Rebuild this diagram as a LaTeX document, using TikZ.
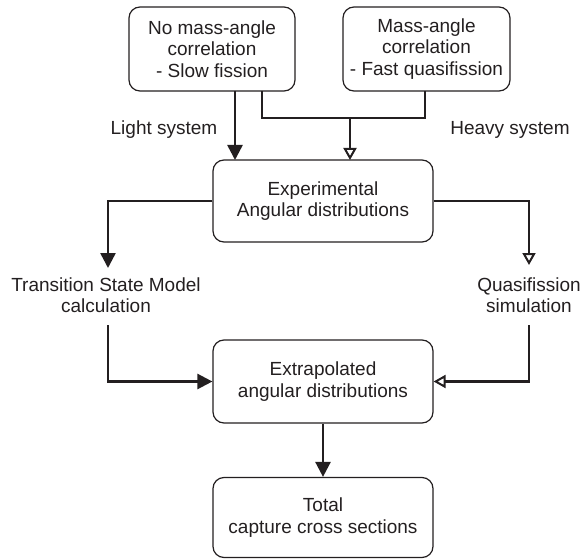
\documentclass[tikz,border=0pt]{standalone}
\usepackage{fontspec}
\setmainfont{Liberation Sans}
\usetikzlibrary{arrows.meta}
\definecolor{ink}{RGB}{35,31,32}
\begin{document}
\begin{tikzpicture}[x=1pt,y=-1pt,
  box/.style={draw=ink,line width=1.2pt,rounded corners=11pt,align=center,
    inner sep=0pt,text=ink,font=\fontsize{19}{21.5}\selectfont},
  lbl/.style={align=center,inner sep=0pt,text=ink,font=\fontsize{19}{21.5}\selectfont},
  conn/.style={draw=ink,line width=2.5pt},
  fillarr/.style={conn,-{Triangle[length=15pt,width=15pt]}},
  openarr/.style={conn,-{Triangle[open,length=12pt,width=13pt,line width=2pt]}}]
\useasboundingbox (0,0) rectangle (581,559);
% boxes
\node[box,minimum width=166pt,minimum height=84pt] (b1) at (212,49)
  {No mass-angle\\correlation\\- Slow fission};
\node[box,minimum width=167pt,minimum height=84pt] (b2) at (426.5,49)
  {Mass-angle\\correlation\\- Fast quasifission};
\node[box,minimum width=220pt,minimum height=82pt] (exp) at (323,201)
  {Experimental\\Angular distributions};
\node[box,minimum width=220pt,minimum height=83pt] (extr) at (323,381.5)
  {Extrapolated\\angular distributions};
\node[box,minimum width=220pt,minimum height=80pt] (tot) at (323,517.5)
  {Total\\capture cross sections};
% text labels
\node[lbl,minimum height=54pt] (tsm) at (106,295) {Transition State Model\\calculation};
\node[lbl,minimum height=54pt] (qs) at (529,295) {Quasifission\\simulation};
\node[lbl] (light) at (164,130) {Light system};
\node[lbl] (heavy) at (510,130) {Heavy system};
% junction coordinates
\coordinate (l1) at (235,91);
\coordinate (l2) at (235,160);
\coordinate (h1) at (262,91);
\coordinate (h2) at (425,91);
\coordinate (j) at (350,118);
\coordinate (j2) at (350,160);
\coordinate (tsmtop) at (108,268);
\coordinate (tsmbot) at (108,325);
\coordinate (qstop) at (529,265);
\coordinate (qsbot) at (529,325);
% connectors
\draw[fillarr] (l1) -- (l2);
\draw[conn] (h1) |- (j) -| (h2);
\draw[openarr] (j) -- (j2);
\draw[fillarr] (exp.west) -| (tsmtop);
\draw[openarr] (exp.east) -| (qstop);
\draw[fillarr] (tsmbot) |- (extr.west);
\draw[openarr] (qsbot) |- (extr.east);
\draw[fillarr] (extr.south) -- (tot.north);
\end{tikzpicture}
\end{document}
